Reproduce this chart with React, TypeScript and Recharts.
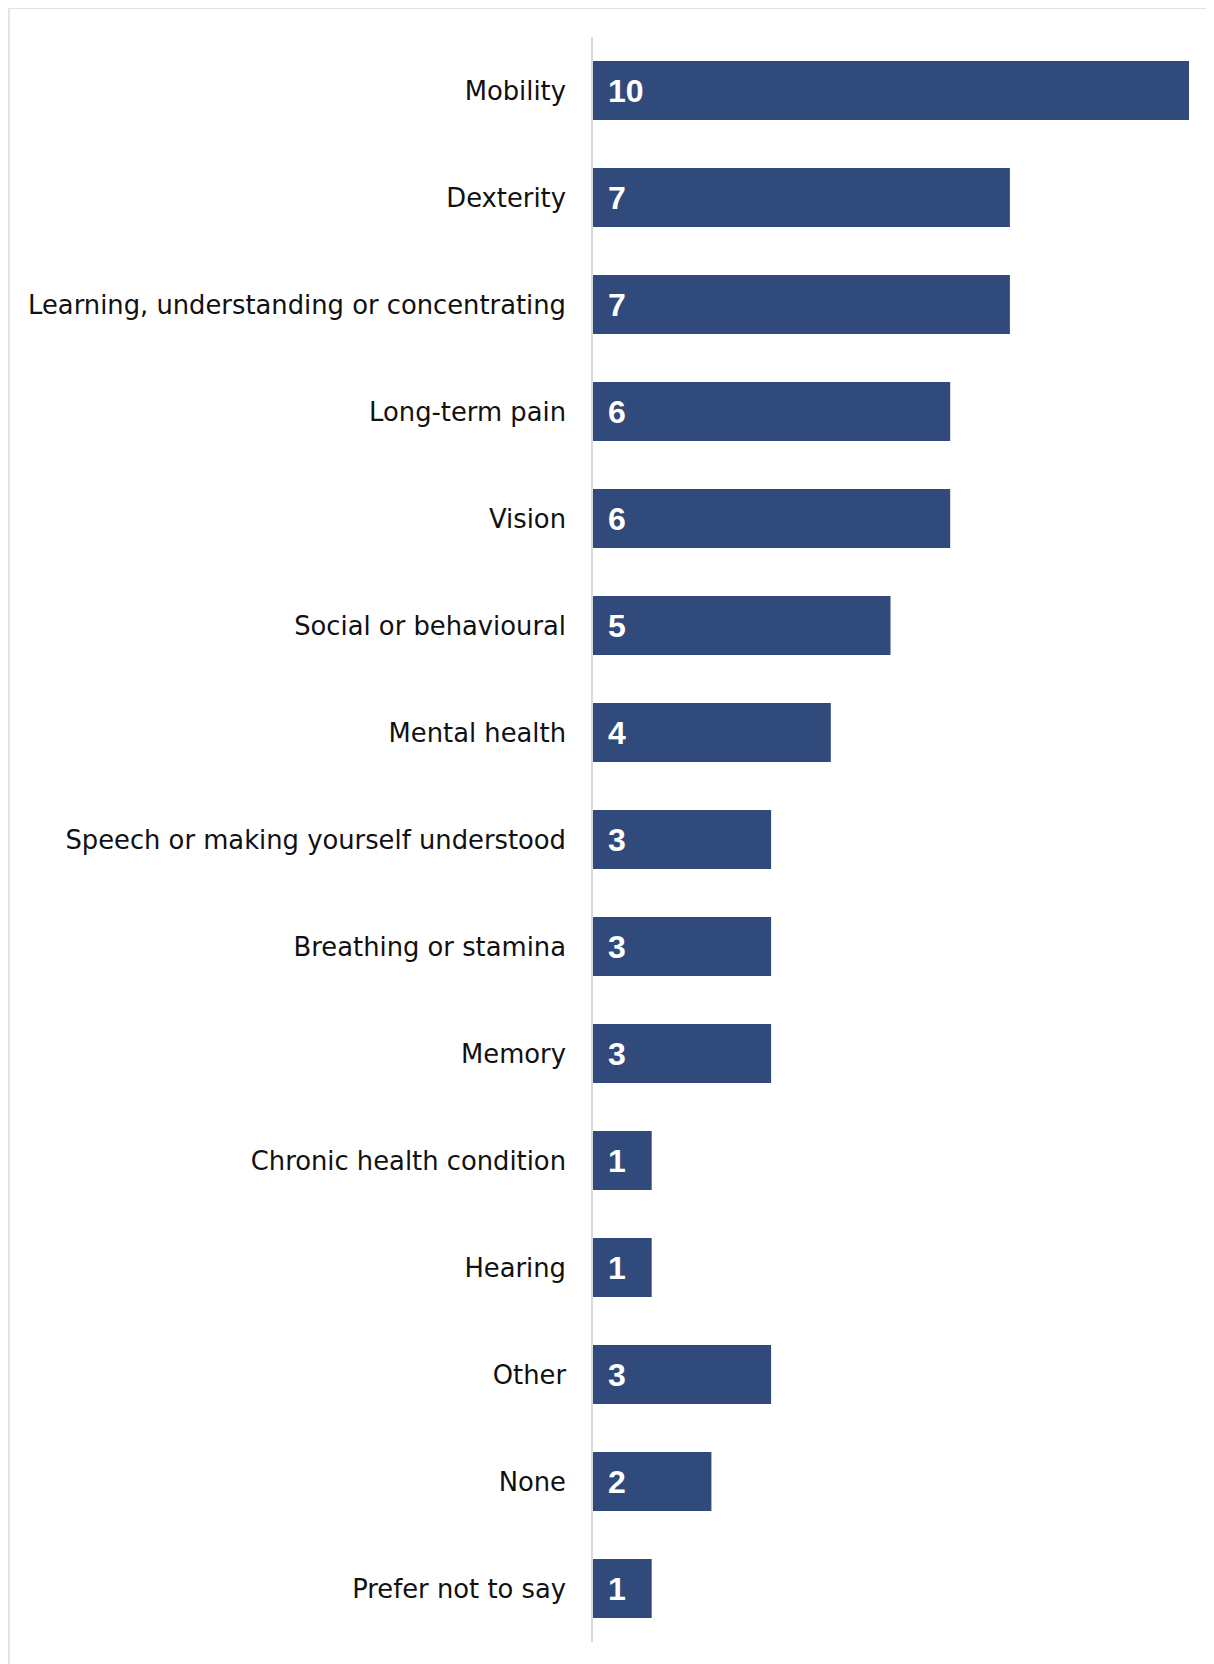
import { BarChart, Bar, XAxis, YAxis, LabelList } from "recharts";

const categories = [
  "Mobility",
  "Dexterity",
  "Learning, understanding or concentrating",
  "Long-term pain",
  "Vision",
  "Social or behavioural",
  "Mental health",
  "Speech or making yourself understood",
  "Breathing or stamina",
  "Memory",
  "Chronic health condition",
  "Hearing",
  "Other",
  "None",
  "Prefer not to say",
];

const counts = [10, 7, 7, 6, 6, 5, 4, 3, 3, 3, 1, 1, 3, 2, 1];

const data = categories.map((name, i) => ({ name, value: counts[i] }));

const App = () => {
  return (
    <div
      style={{
        borderTop: "2px solid #e3e3e3",
        borderLeft: "2px solid #e3e3e3",
        marginTop: -1,
        height: 1660,
        boxSizing: "border-box",
      }}
    >
      <BarChart
        width={1196}
        height={1633}
        data={data}
        layout="vertical"
        margin={{ top: 28, right: 17, bottom: 0, left: 0 }}
      >
        <XAxis type="number" domain={[0, 10]} hide />
        <YAxis
          type="category"
          dataKey="name"
          width={582}
          axisLine={{ stroke: "#d9d9d9", strokeWidth: 2 }}
          tickLine={false}
          tickMargin={20}
          tick={{ fill: "#111", fontSize: 25.8, fontFamily: "DejaVu Sans" }}
          interval={0}
        />
        <Bar dataKey="value" fill="#304A7B" barSize={59} isAnimationActive={false}>
          <LabelList
            dataKey="value"
            position="insideLeft"
            offset={16}
            fill="#ffffff"
            fontSize={32}
            fontWeight="bold"
            fontFamily="Liberation Sans"
          />
        </Bar>
      </BarChart>
    </div>
  );
};

export default App;
